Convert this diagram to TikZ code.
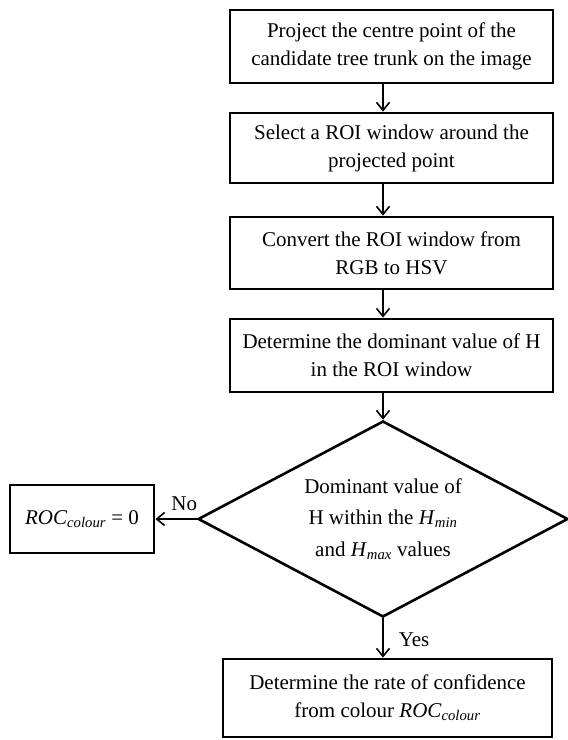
\documentclass[tikz,border=0pt]{standalone}
\usepackage{fontspec}
\setmainfont{Liberation Serif}
\usetikzlibrary{shapes.geometric,arrows.meta}

\newcommand{\roc}{\textit{ROC}\textsubscript{\textit{colour}}}

\begin{document}
\begin{tikzpicture}[x=1pt, y=-1pt,
    box/.style={draw, line width=2.8pt, align=center, inner sep=0pt,
      font=\fontsize{21}{28}\selectfont},
    pfeil/.style={-{Straight Barb[length=8pt,width=13pt]}, line width=1.6pt},
    beschr/.style={font=\fontsize{21}{24}\selectfont, inner sep=0pt}]

    \useasboundingbox (0,0) rectangle (568,740);

    % Schritte
    \node[box, minimum width=323pt, minimum height=73pt] (proj) at (391.5,46.5)
      {Project the centre point of the\\candidate tree trunk on the image};
    \node[box, minimum width=323pt, minimum height=70pt] (roi) at (391.5,148)
      {Select a ROI window around the\\projected point};
    \node[box, minimum width=323pt, minimum height=72pt] (hsv) at (391.5,253)
      {Convert the ROI window from\\RGB to HSV};
    \node[box, minimum width=323pt, minimum height=73pt] (dom) at (391.5,355.5)
      {Determine the dominant value of H\\in the ROI window};

    % Entscheidung
    \node[diamond, aspect=1.9, draw, line width=2.6pt, minimum width=370pt, minimum height=196pt,
      inner sep=0pt, align=center, font=\fontsize{21}{31.5}\selectfont] (test) at (383,519)
      {Dominant value of\\H within the \textit{H}\textsubscript{\textit{min}}\\and
       \textit{H}\textsubscript{\textit{max}} values};

    % Ergebnisse
    \node[box, minimum width=144pt, minimum height=68pt] (null) at (82,519)
      {\roc{} = 0};
    \node[box, minimum width=329pt, minimum height=78pt] (rate) at (387.5,698)
      {Determine the rate of confidence\\from colour \roc};

    % Pfeile
    \draw[pfeil] (proj.south -| test.north) -- (roi.north -| test.north);
    \draw[pfeil] (roi.south -| test.north) -- (hsv.north -| test.north);
    \draw[pfeil] (hsv.south -| test.north) -- (dom.north -| test.north);
    \draw[pfeil] (dom.south -| test.north) -- (test.north);
    \draw[pfeil] (test.west) -- node[beschr, above=8pt, pos=0.3] {No} (null.east);
    \draw[pfeil] (test.south) -- node[beschr, right=15pt, pos=0.55] {Yes} (rate.north -| test.south);

\end{tikzpicture}
\end{document}
